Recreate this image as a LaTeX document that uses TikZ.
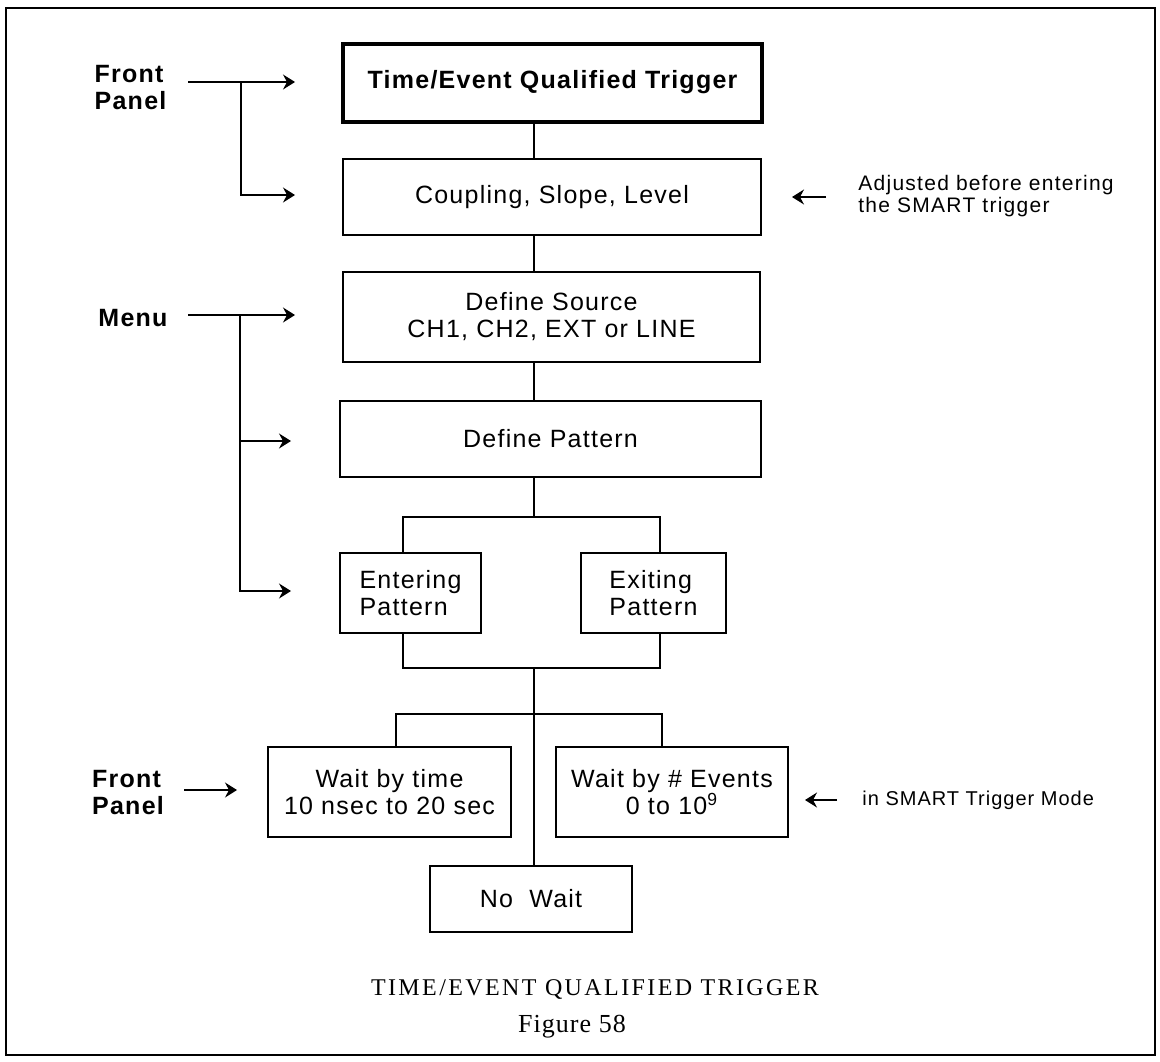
\documentclass[tikz,border=0pt]{standalone}
\usepackage{fontspec}
\setmainfont{Liberation Sans}
\newfontfamily\boxfont[LetterSpace=5]{Liberation Sans}
\newfontfamily\notefont[LetterSpace=6]{Liberation Sans}
\newfontfamily\notefontb[LetterSpace=5]{Liberation Sans}
\newfontfamily\capfont[LetterSpace=10]{Liberation Serif}
\newfontfamily\figfont[LetterSpace=4]{Liberation Serif}
\usetikzlibrary{arrows.meta}
\begin{document}
\begin{tikzpicture}[x=0.5pt,y=-0.5pt,
  box/.style={draw, line width=1.2pt, inner sep=0pt, align=center,
    font=\boxfont\fontsize{12.5}{13.5}\selectfont},
  lbl/.style={inner sep=0pt, align=left,
    font=\boxfont\bfseries\fontsize{12.5}{13.5}\selectfont},
  note/.style={inner sep=0pt, align=left, anchor=west,
    font=\notefont\fontsize{10.5}{11}\selectfont},
  conn/.style={line width=1pt},
  arr/.style={line width=1.1pt, -{Stealth[length=6pt,width=7.5pt,inset=2pt,line width=0.6pt]}}]
\useasboundingbox (0,0) rectangle (1160,1061);
% frame
\draw[line width=1pt] (6,8) rectangle (1155,1055);

% boxes
\node[box, line width=2pt, minimum width=209.5pt, minimum height=39pt,
  font=\boxfont\bfseries\fontsize{12.5}{13.5}\selectfont]
  (b1) at (552.5,82.5) {Time/Event Qualified Trigger};
\node[box, minimum width=209pt, minimum height=38pt] (b2) at (552,197) {Coupling, Slope, Level};
\node[box, minimum width=208.5pt, minimum height=45pt] (b3) at (551.5,317) {Define Source\\CH1, CH2, EXT or LINE};
\node[box, minimum width=210.5pt, minimum height=38pt] (b4) at (550.5,439) {Define Pattern};
\node[box, align=left, minimum width=70.5pt, minimum height=40pt] (b5) at (410.5,593) {Entering\\Pattern};
\node[box, align=left, minimum width=72.5pt, minimum height=40pt] (b6) at (653.5,593) {Exiting\\Pattern};
\node[box, minimum width=121.5pt, minimum height=45pt] (b7) at (389.5,792) {Wait by time\\10 nsec to 20 sec};
\node[box, minimum width=116pt, minimum height=45pt] (b8) at (672,792) {Wait by \# Events\\0 to 10\textsuperscript{9}};
\node[box, minimum width=101pt, minimum height=33pt] (b9) at (531,899) {No\ \ Wait};

% junction coordinates
\coordinate (cx) at (533.5,0);
\coordinate (j0) at (533.5,517);
\coordinate (e1) at (403,517);
\coordinate (e2) at (660,517);
\coordinate (k0) at (533.5,668);
\coordinate (k1) at (403,668);
\coordinate (k2) at (660,668);
\coordinate (m0) at (533.5,714);
\coordinate (m1) at (396,714);
\coordinate (m2) at (662,714);

% connectors
\draw[conn] (b1.south -| cx) -- (b2.north -| cx);
\draw[conn] (b2.south -| cx) -- (b3.north -| cx);
\draw[conn] (b3.south -| cx) -- (b4.north -| cx);
\draw[conn] (b4.south -| cx) -- (j0);
\draw[conn] (b5.north -| e1) -- (e1) -- (e2) -- (b6.north -| e2);
\draw[conn] (b5.south -| k1) -- (k1) -- (k2) -- (b6.south -| k2);
\draw[conn] (k0) -- (m0);
\draw[conn] (b7.north -| m1) -- (m1) -- (m2) -- (b8.north -| m2);
\draw[conn] (m0) -- (b9.north -| m0);

% left labels
\node[lbl] (fp1) at (130.5,88) {Front\\Panel};
\node[lbl] (menu) at (133,318) {Menu};
\node[lbl] (fp2) at (128,793) {Front\\Panel};

% front panel (top) arrows
\coordinate (p1) at (188,82);
\coordinate (p2) at (295,82);
\coordinate (p3) at (241,82);
\coordinate (p4) at (241,195);
\coordinate (p5) at (295,195);
\draw[arr] (p1) -- (p2);
\draw[arr] (p3) -- (p4) -- (p5);

% menu arrows
\coordinate (q1) at (188,315);
\coordinate (q2) at (295,315);
\coordinate (q3) at (240,315);
\coordinate (q4) at (240,591);
\coordinate (q5) at (291,591);
\coordinate (q6) at (240,441);
\coordinate (q7) at (291,441);
\draw[arr] (q1) -- (q2);
\draw[arr] (q3) -- (q4) -- (q5);
\draw[arr] (q6) -- (q7);

% front panel (bottom) arrow
\coordinate (r1) at (184,790);
\coordinate (r2) at (237,790);
\draw[arr] (r1) -- (r2);

% right notes
\node[note] (n1) at (858,196) {Adjusted before entering\\the SMART trigger};
\coordinate (s1) at (826,197);
\coordinate (s2) at (792,197);
\draw[arr] (s1) -- (s2);
\node[note, font=\notefontb\fontsize{10}{11}\selectfont] (n2) at (862,800) {in SMART Trigger Mode};
\coordinate (t1) at (837,800);
\coordinate (t2) at (805,800);
\draw[arr] (t1) -- (t2);

% caption
\node[inner sep=0pt, font=\capfont\fontsize{12}{13}\selectfont] (cap) at (595,989) {TIME/EVENT QUALIFIED TRIGGER};
\node[inner sep=0pt, font=\figfont\fontsize{13}{14}\selectfont] (fig) at (572,1027) {Figure 58};
\end{tikzpicture}
\end{document}
